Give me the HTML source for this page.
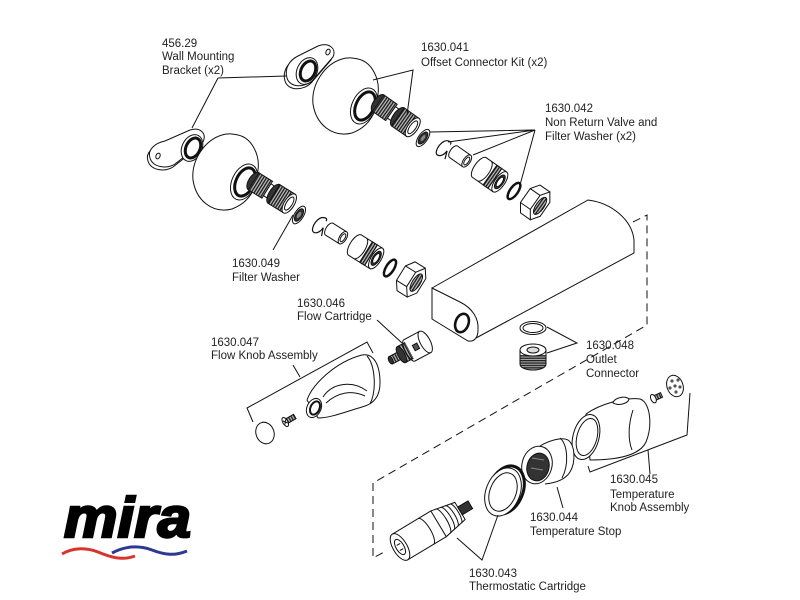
<!DOCTYPE html>
<html><head><meta charset="utf-8"><style>
html,body{margin:0;padding:0;background:#fff;}
svg{display:block;}
text{font-family:"Liberation Sans",Arial,sans-serif;font-size:11.5px;fill:#222;}
</style></head><body>
<svg width="800" height="600" viewBox="0 0 800 600" xmlns="http://www.w3.org/2000/svg">
<defs>
<pattern id="th" width="2.6" height="10" patternUnits="userSpaceOnUse"><rect width="2.6" height="10" fill="#bbb"/><rect width="1.4" height="10" fill="#222"/></pattern>
<pattern id="th2" width="10" height="2.4" patternUnits="userSpaceOnUse"><rect width="10" height="2.4" fill="#aaa"/><rect width="10" height="1.3" fill="#222"/></pattern>
</defs>
<g fill="none" stroke="#111" stroke-width="1">

<!-- dashed enclosure -->
<path d="M633,222 L647,215 L647,325 L373,483 L373,558 L386,551" stroke-dasharray="8,5"/>

<!-- main body -->
<path d="M432,288 L588,200 C612,203 632,220 634,240 L634,253 L476,338" fill="#fff"/>
<path d="M432,288 L460,302 C472,308 479,318 478,330 C478,338 474,342 468,341 L432,319 Z" fill="#fff"/>
<ellipse cx="462" cy="323" rx="6.5" ry="9.5" transform="rotate(20 462 323)" fill="#fff" stroke-width="2.6"/>

<!-- lower wall bracket -->
<path d="M148,161 C145,153 153,146 163,144 L188,133 C198,130 205,136 201,145 L173,167 C166,172 151,171 148,161 Z" fill="#fff"/>
<path d="M150,158 C147,150 155,143 165,141 L190,130 C200,127 207,133 203,142 L175,164 C168,169 153,168 150,158 Z" fill="#fff"/>
<ellipse cx="158" cy="156" rx="2" ry="3" transform="rotate(25 158 156)"/>
<ellipse cx="192" cy="148" rx="10" ry="14" transform="rotate(25 192 148)" fill="#fff"/>
<ellipse cx="193" cy="148" rx="7" ry="10.5" transform="rotate(25 193 148)" stroke-width="3"/>

<!-- upper wall bracket -->
<path d="M285,81 C282,71 288,63 296,59 L316,49 C326,45 335,51 331,60 L311,83 C303,91 288,91 285,81 Z" fill="#fff"/>
<path d="M287,78 C284,68 290,60 298,56 L318,46 C328,42 337,48 333,57 L313,80 C305,88 290,88 287,78 Z" fill="#fff"/>
<ellipse cx="328" cy="52" rx="2" ry="3" transform="rotate(25 328 52)"/>
<ellipse cx="307" cy="71" rx="10" ry="14" transform="rotate(25 307 71)" fill="#fff"/>
<ellipse cx="308" cy="71" rx="7" ry="10.5" transform="rotate(25 308 71)" stroke-width="3"/>

<!-- lower dome -->
<path d="M238,135 C252,138 260,155 258,170 C257,190 248,203 232,209 C212,214 196,200 193,180 C191,160 205,140 222,135 C228,133 233,134 238,135 Z" fill="#fff"/>
<ellipse cx="244" cy="182" rx="12" ry="19" transform="rotate(25 244 182)" fill="#fff"/>
<ellipse cx="245" cy="182" rx="9" ry="15" transform="rotate(25 245 182)" stroke-width="3"/>

<!-- upper dome -->
<g transform="translate(120,-76)">
<path d="M238,135 C252,138 260,155 258,170 C257,190 248,203 232,209 C212,214 196,200 193,180 C191,160 205,140 222,135 C228,133 233,134 238,135 Z" fill="#fff"/>
<ellipse cx="244" cy="182" rx="12" ry="19" transform="rotate(25 244 182)" fill="#fff"/>
<ellipse cx="245" cy="182" rx="9" ry="15" transform="rotate(25 245 182)" stroke-width="3"/>
</g>

<!-- upper chain -->
<g>
<g transform="translate(398,117) rotate(35)">
 <ellipse cx="-24" cy="0" rx="5" ry="10" fill="#333"/>
 <rect x="-24" y="-10" width="16" height="20" fill="url(#th)"/>
 <rect x="-8" y="-7" width="8" height="14" fill="#fff"/>
 <ellipse cx="0" cy="0" rx="5" ry="11" fill="#333"/>
 <rect x="0" y="-11" width="18" height="22" fill="url(#th)"/>
 <ellipse cx="18" cy="0" rx="5" ry="11" fill="#fff"/>
 <ellipse cx="18" cy="0" rx="3" ry="7.5"/>
</g>
<g transform="translate(423,138) rotate(35)"><ellipse rx="4.5" ry="10" fill="#fff"/><ellipse rx="3.2" ry="7" fill="#333"/><ellipse rx="1.6" ry="3.5" fill="#888" stroke="none"/></g>
<g transform="translate(443,148) rotate(35)"><path d="M1,-9 C-6,-8 -6,8 -1,9 C3,9 5,4 5,0 L8,8 M1,-9 C3,-10 4,-9 4,-7" stroke-width="1.2"/></g>
<g transform="translate(461,157) rotate(35)"><ellipse cx="-9" rx="3.5" ry="7" fill="#fff"/><rect x="-9" y="-7" width="16" height="14" fill="#fff" stroke="none"/><path d="M-9,-7 H7 M-9,7 H7"/><ellipse cx="7" rx="3.5" ry="7" fill="#fff"/><ellipse cx="7" rx="2" ry="4.5"/></g>
<g transform="translate(490,175) rotate(35)">
 <ellipse cx="-13" rx="5" ry="12" fill="#fff"/>
 <rect x="-13" y="-12" width="25" height="24" fill="#fff" stroke="none"/>
 <path d="M-13,-12 H12 M-13,12 H12 M-7,-12 A5 12 0 0 1 -7,12"/>
 <rect x="0" y="-12" width="6" height="24" fill="url(#th)"/>
 <ellipse cx="12" rx="5" ry="12" fill="#fff"/>
 <ellipse cx="12" rx="3.5" ry="8" fill="#333"/>
 <ellipse cx="12" rx="2.3" ry="5.5" fill="#fff"/>
</g>
<g transform="translate(514,191) rotate(35)"><ellipse rx="4" ry="9.5" stroke-width="2.5"/></g>
<g transform="translate(536,203) rotate(35)">
 <path d="M5,-17 L-7,-17 L-13,-8.5 L-13,8.5 L-7,17 L5,17 Z" fill="#fff"/>
 <path d="M-13,-8.5 L-1,-8.5 M-13,8.5 L-1,8.5"/>
 <path d="M11,-8.5 L5,-17 L-1,-8.5 L-1,8.5 L5,17 L11,8.5 Z" fill="#fff"/>
 <ellipse cx="5" rx="4" ry="10" fill="url(#th)"/>
</g>
</g>

<!-- lower chain -->
<g transform="translate(-124,77)">
<g transform="translate(398,117) rotate(32)">
 <ellipse cx="-24" cy="0" rx="5" ry="10" fill="#333"/>
 <rect x="-24" y="-10" width="16" height="20" fill="url(#th)"/>
 <rect x="-8" y="-7" width="8" height="14" fill="#fff"/>
 <ellipse cx="0" cy="0" rx="5" ry="11" fill="#333"/>
 <rect x="0" y="-11" width="18" height="22" fill="url(#th)"/>
 <ellipse cx="18" cy="0" rx="5" ry="11" fill="#fff"/>
 <ellipse cx="18" cy="0" rx="3" ry="7.5"/>
</g>
<g transform="translate(423,138) rotate(32)"><ellipse rx="4.5" ry="10" fill="#fff"/><ellipse rx="3.2" ry="7" fill="#333"/><ellipse rx="1.6" ry="3.5" fill="#888" stroke="none"/></g>
<g transform="translate(443,148) rotate(32)"><path d="M1,-9 C-6,-8 -6,8 -1,9 C3,9 5,4 5,0 L8,8 M1,-9 C3,-10 4,-9 4,-7" stroke-width="1.2"/></g>
<g transform="translate(461,157) rotate(32)"><ellipse cx="-9" rx="3.5" ry="7" fill="#fff"/><rect x="-9" y="-7" width="16" height="14" fill="#fff" stroke="none"/><path d="M-9,-7 H7 M-9,7 H7"/><ellipse cx="7" rx="3.5" ry="7" fill="#fff"/><ellipse cx="7" rx="2" ry="4.5"/></g>
<g transform="translate(490,175) rotate(32)">
 <ellipse cx="-13" rx="5" ry="12" fill="#fff"/>
 <rect x="-13" y="-12" width="25" height="24" fill="#fff" stroke="none"/>
 <path d="M-13,-12 H12 M-13,12 H12 M-7,-12 A5 12 0 0 1 -7,12"/>
 <rect x="0" y="-12" width="6" height="24" fill="url(#th)"/>
 <ellipse cx="12" rx="5" ry="12" fill="#fff"/>
 <ellipse cx="12" rx="3.5" ry="8" fill="#333"/>
 <ellipse cx="12" rx="2.3" ry="5.5" fill="#fff"/>
</g>
<g transform="translate(514,191) rotate(32)"><ellipse rx="4" ry="9.5" stroke-width="2.5"/></g>
<g transform="translate(536,203) rotate(32)">
 <path d="M5,-17 L-7,-17 L-13,-8.5 L-13,8.5 L-7,17 L5,17 Z" fill="#fff"/>
 <path d="M-13,-8.5 L-1,-8.5 M-13,8.5 L-1,8.5"/>
 <path d="M11,-8.5 L5,-17 L-1,-8.5 L-1,8.5 L5,17 L11,8.5 Z" fill="#fff"/>
 <ellipse cx="5" rx="4" ry="10" fill="url(#th)"/>
</g>
</g>

<!-- flow cartridge -->
<g transform="translate(412,349) rotate(-28)">
 <rect x="-24" y="-4" width="12" height="8" fill="url(#th)"/>
 <ellipse cx="-24" rx="2" ry="4" fill="#333"/>
 <rect x="-12" y="-9" width="9" height="18" fill="url(#th)"/>
 <ellipse cx="-12" rx="3.5" ry="9" fill="#333"/>
 <rect x="-3" y="-12" width="18" height="24" fill="#fff" stroke="none"/>
 <path d="M-3,-12 H15 M-3,12 H15 M-3,-12 A4 12 0 0 0 -3,12"/>
 <ellipse cx="15" rx="5" ry="12" fill="#fff"/>
 <rect x="2" y="-3" width="5" height="6" fill="#555"/>
</g>

<!-- flow knob -->
<path d="M307,400 C312,385 335,362 362,355 C374,353 380,365 380,383 C380,396 374,404 362,407 C345,412 330,418 318,418 Z" fill="#fff"/>
<path d="M367,356 C375,365 377,390 370,404"/>
<path d="M323,397 C332,383 352,380 367,391 M326,403 C338,392 352,390 365,396"/>
<ellipse cx="314" cy="408" rx="7" ry="10" transform="rotate(25 314 408)" fill="#fff"/>
<ellipse cx="315" cy="408" rx="4.5" ry="7" transform="rotate(25 315 408)" stroke-width="2"/>
<ellipse cx="265" cy="433" rx="9" ry="11" transform="rotate(-20 265 433)" fill="#fff"/>
<g transform="translate(287,421) rotate(-30)"><rect x="-1" y="-2.5" width="10" height="5" fill="url(#th)"/><ellipse cx="-2" rx="2.5" ry="5" fill="#fff"/><path d="M-3.5,-2 L-0.5,2 M-3.5,2 L-0.5,-2"/></g>

<!-- outlet connector -->
<ellipse cx="533" cy="328" rx="13" ry="6.5" fill="#fff"/>
<ellipse cx="533" cy="328" rx="10" ry="4.5"/>
<path d="M520,350 L520,364 C520,372 546,372 546,364 L546,350" fill="url(#th2)"/>
<rect x="520.5" y="350" width="25" height="5" fill="#fff" stroke="none"/>
<ellipse cx="533" cy="350" rx="13" ry="6" fill="#fff"/>
<ellipse cx="533" cy="350" rx="6" ry="3" fill="#ddd"/>

<!-- temperature knob -->
<path d="M586,414 C600,404 625,397 640,399 C650,402 653,425 646,442 C640,455 618,460 590,460 Z" fill="#fff"/>
<path d="M613,403 C614,398 625,395 629,399 C628,404 618,406 613,403Z" fill="#fff"/>
<path d="M633,410 C628,425 628,440 632,450"/>
<ellipse cx="586" cy="437" rx="13" ry="23" transform="rotate(15 586 437)" fill="#fff"/>
<ellipse cx="587" cy="437" rx="10" ry="19" transform="rotate(15 587 437)"/>
<g transform="translate(657,397) rotate(-25)"><rect x="-4" y="-2.5" width="9" height="5" fill="url(#th)"/><ellipse cx="-4" rx="2.5" ry="4.5" fill="#fff"/></g>
<ellipse cx="675" cy="386" rx="8" ry="11" transform="rotate(-20 675 386)" fill="#fff"/>
<g fill="#555" stroke="none"><circle cx="672" cy="381" r="1.6"/><circle cx="678" cy="380" r="1.6"/><circle cx="680" cy="387" r="1.6"/><circle cx="676" cy="392" r="1.6"/><circle cx="670" cy="388" r="1.6"/><circle cx="675" cy="386" r="1.6"/></g>

<!-- temperature stop -->
<path d="M540,446 C550,440 562,437 568,440 C575,445 576,462 570,472 C565,480 555,483 545,484" fill="#fff"/>
<path d="M560,438 C568,445 569,465 562,478"/>
<ellipse cx="537" cy="465" rx="15" ry="19" transform="rotate(15 537 465)" fill="#fff"/>
<ellipse cx="538" cy="467" rx="11" ry="14" transform="rotate(15 538 467)" fill="#333"/>
<path d="M532,458 L544,460 M531,468 L543,470" stroke="#888"/>

<!-- thermostatic ring -->
<ellipse cx="506" cy="490" rx="17" ry="25" transform="rotate(22 506 490)" fill="#fff" stroke-width="3"/>
<ellipse cx="503" cy="492" rx="17" ry="25" transform="rotate(22 503 492)" fill="#fff"/>
<ellipse cx="503" cy="492" rx="13" ry="20" transform="rotate(22 503 492)"/>

<!-- thermostatic cartridge -->
<g transform="translate(400,547) rotate(-31)">
 <rect x="0" y="-15" width="45" height="30" fill="#fff" stroke="none"/>
 <path d="M0,-15 H45 M0,15 H45 M30,-15 A5 15 0 0 1 30,15"/>
 <path d="M45,-15 L70,-10 L70,10 L45,15 Z" fill="#fff"/>
 <path d="M50,-14 A4 14 0 0 1 50,14 M55,-13 A4 13 0 0 1 55,13 M60,-12 A3.5 12 0 0 1 60,12 M65,-11 A3 11 0 0 1 65,11"/>
 <rect x="70" y="-4.5" width="12" height="9" fill="#333"/>
 <ellipse cx="0" rx="7" ry="15" fill="#fff"/>
 <ellipse cx="0" rx="4" ry="8.5"/>
 <path d="M-2,-3 L2,-3 M-2,3 L2,3"/>
</g>

<!-- leader lines -->
<path d="M218,78 L286,76 M218,78 L192,128"/>
<path d="M373,80 L413,70 L407,115"/>
<path d="M535,130 L430,132 M535,130 L448,142 M535,130 L473,155 M535,130 L520,185"/>
<path d="M273,250 L293,215"/>
<path d="M377,320 L402,343"/>
<path d="M253,422 L247,408 L367,342 L373,353 M293,365 L300,377"/>
<path d="M547,327 L577,343 L547,353"/>
<path d="M588,466 L590,472 L687,435 L690,393 M648,450 L650,474"/>
<path d="M557,487 L563,508"/>
<path d="M457,538 L482,560 L498,515"/>
</g>

<!-- labels -->
<text x="162" y="47">456.29</text>
<text x="162" y="60">Wall Mounting</text>
<text x="162" y="74">Bracket (x2)</text>
<text x="421" y="51">1630.041</text>
<text x="421" y="66">Offset Connector Kit (x2)</text>
<text x="545" y="112">1630.042</text>
<text x="545" y="126">Non Return Valve and</text>
<text x="545" y="140">Filter Washer (x2)</text>
<text x="232" y="267">1630.049</text>
<text x="232" y="281">Filter Washer</text>
<text x="297" y="307">1630.046</text>
<text x="297" y="320">Flow Cartridge</text>
<text x="211" y="346">1630.047</text>
<text x="211" y="359">Flow Knob Assembly</text>
<text x="586" y="349">1630.048</text>
<text x="586" y="363">Outlet</text>
<text x="586" y="377">Connector</text>
<text x="610" y="483">1630.045</text>
<text x="610" y="498">Temperature</text>
<text x="610" y="511">Knob Assembly</text>
<text x="530" y="521">1630.044</text>
<text x="530" y="535">Temperature Stop</text>
<text x="469" y="577">1630.043</text>
<text x="469" y="590">Thermostatic Cartridge</text>

<!-- mira logo -->
<text x="64" y="537" textLength="127" lengthAdjust="spacingAndGlyphs" style="font-family:'Liberation Sans',Arial,sans-serif;font-weight:bold;font-style:italic;font-size:57px;fill:#000;stroke:#000;stroke-width:2.5">mira</text>
<path d="M62,554 C72,548 85,547 98,552 C110,557 122,561 135,556" stroke="#d8342c" stroke-width="3" fill="none"/>
<path d="M112,553 C125,546 138,545 152,550 C165,555 175,556 187,551" stroke="#2b3990" stroke-width="3" fill="none"/>
</svg>
</body></html>
